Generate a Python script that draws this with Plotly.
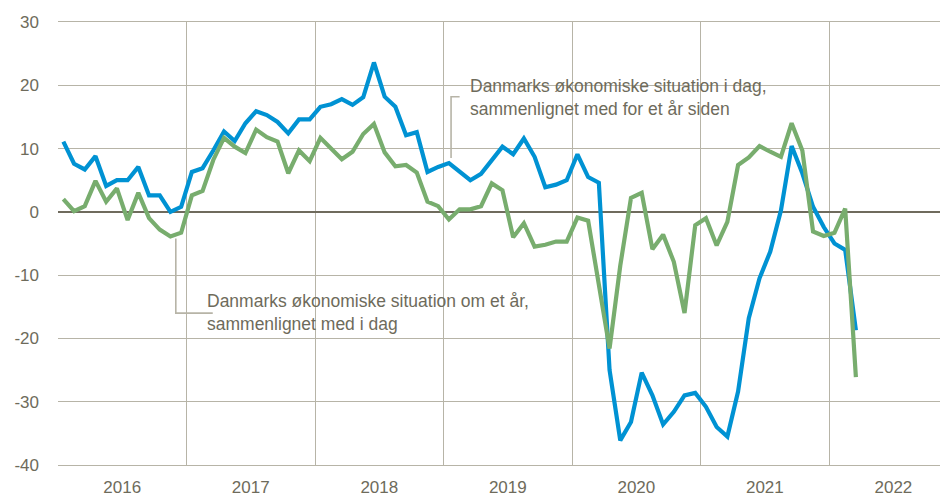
import plotly.graph_objects as go

# Monthly observations, Jan 2016 .. Mar 2022
start_year = 2016
n_months = 75
months = [f"{start_year + i // 12}-{i % 12 + 1:02d}" for i in range(n_months)]

# Danmarks økonomiske situation i dag, sammenlignet med for et år siden
blue_vals = [
    11.1, 7.6, 6.7, 8.8, 4.1, 5.0, 5.0, 7.1, 2.6, 2.6, 0.0, 0.8,      # 2016
    6.3, 6.9, 9.7, 12.7, 11.2, 14.0, 15.9, 15.3, 14.2, 12.4, 14.6, 14.6,  # 2017
    16.6, 17.0, 17.8, 16.9, 18.1, 23.6, 18.2, 16.6, 12.1, 12.6, 6.3, 7.1,  # 2018
    7.7, 6.3, 5.0, 6.0, 8.2, 10.3, 9.1, 11.6, 8.7, 3.9, 4.3, 5.0,     # 2019
    9.1, 5.5, 4.6, -25.0, -36.1, -33.2, -25.4, -29.0, -33.6, -31.6, -29.0, -28.6,  # 2020
    -30.8, -34.0, -35.5, -28.4, -16.8, -10.5, -6.3, 0.2, 10.4, 6.1, 0.8, -2.4,  # 2021
    -5.0, -6.0, -18.7,                                                  # 2022
]

# Danmarks økonomiske situation om et år, sammenlignet med i dag
green_vals = [
    2.0, 0.1, 0.9, 4.9, 1.6, 3.7, -1.3, 3.0, -1.0, -2.8, -3.9, -3.3,   # 2016
    2.6, 3.3, 8.2, 11.7, 10.3, 9.3, 13.0, 11.8, 11.1, 6.1, 9.7, 8.0,    # 2017
    11.7, 9.9, 8.3, 9.5, 12.3, 13.9, 9.4, 7.2, 7.4, 6.2, 1.6, 0.9,      # 2018
    -1.2, 0.4, 0.4, 0.9, 4.5, 3.4, -4.0, -1.8, -5.5, -5.2, -4.7, -4.7,  # 2019
    -0.9, -1.4, -11.5, -21.6, -8.5, 2.2, 3.0, -5.9, -3.6, -7.9, -16.0, -2.1,  # 2020
    -1.0, -5.3, -1.6, 7.4, 8.6, 10.4, 9.5, 8.7, 14.0, 9.7, -3.1, -3.8,  # 2021
    -3.3, 0.5, -26.1,                                                   # 2022
]

years = [str(y) for y in range(2016, 2023)]
y_ticks = [30, 20, 10, 0, -10, -20, -30, -40]
y_tick_labels = ["30", "20", "10", "0", "-10", "-20", "-30", "-40"]

label_blue = "Danmarks økonomiske situation i dag,<br>sammenlignet med for et år siden"
label_green = "Danmarks økonomiske situation om et år,<br>sammenlignet med i dag"

BLUE = "#0092D3"
GREEN = "#78AD6E"
GRID = "#B7B4A7"
ZERO = "#6F6B5D"
TEXT = "#6E6B5B"
FONT = "Liberation Sans, Arial, sans-serif"

x_idx = list(range(n_months))
year_centers = [12 * k + 5.5 for k in range(len(years))]
year_bounds = [12 * k - 0.5 for k in range(len(years) + 1)]

fig = go.Figure()
fig.add_trace(go.Scatter(x=x_idx, y=blue_vals, mode="lines", customdata=months,
                         line=dict(color=BLUE, width=4.2), name="i dag"))
fig.add_trace(go.Scatter(x=x_idx, y=green_vals, mode="lines", customdata=months,
                         line=dict(color=GREEN, width=4.2), name="om et år"))

# leader lines (data coordinates)
leader_blue = dict(x=[37.0, 36.2, 36.2], y=[18.2, 18.2, 8.5])
leader_green = dict(x=[10.5, 10.5, 13.95], y=[-4.2, -16.0, -16.0])
for ld in (leader_blue, leader_green):
    fig.add_trace(go.Scatter(x=ld["x"], y=ld["y"], mode="lines",
                             line=dict(color=GRID, width=1.6), hoverinfo="skip"))

fig.add_annotation(x=37.8, y=18.0, xref="x", yref="y", text=label_blue,
                   showarrow=False, xanchor="left", yanchor="middle", align="left",
                   font=dict(family=FONT, size=17.5, color=TEXT))
fig.add_annotation(x=13.2, y=-15.85, xref="x", yref="y", text=label_green,
                   showarrow=False, xanchor="left", yanchor="middle", align="left",
                   font=dict(family=FONT, size=17.5, color=TEXT))

# The page body has an 8px margin, so the figure is sized/offset to compensate.
fig.update_layout(
    width=940, height=491,
    margin=dict(l=50, r=0, t=14, b=34),
    paper_bgcolor="white", plot_bgcolor="white",
    showlegend=False,
    font=dict(family=FONT, size=17, color=TEXT),
    xaxis=dict(
        range=[-0.5, 82.6], automargin=False,
        tickmode="array", tickvals=year_centers, ticktext=years,
        showgrid=False, zeroline=False, ticks="",
        ticklabelstandoff=6,
        minor=dict(tickmode="array", tickvals=year_bounds, showgrid=True,
                   gridcolor=GRID, gridwidth=1.3, ticks=""),
        showline=True, linecolor=GRID, linewidth=1.3, mirror=True,
    ),
    yaxis=dict(
        range=[-40, 30], automargin=False,
        tickmode="array", tickvals=y_ticks, ticktext=y_tick_labels,
        showgrid=True, gridcolor=GRID, gridwidth=1.3,
        zeroline=True, zerolinecolor=ZERO, zerolinewidth=1.6,
        ticks="", ticklabelstandoff=18,
        showline=False,
    ),
)

fig.write_html("out.html")
